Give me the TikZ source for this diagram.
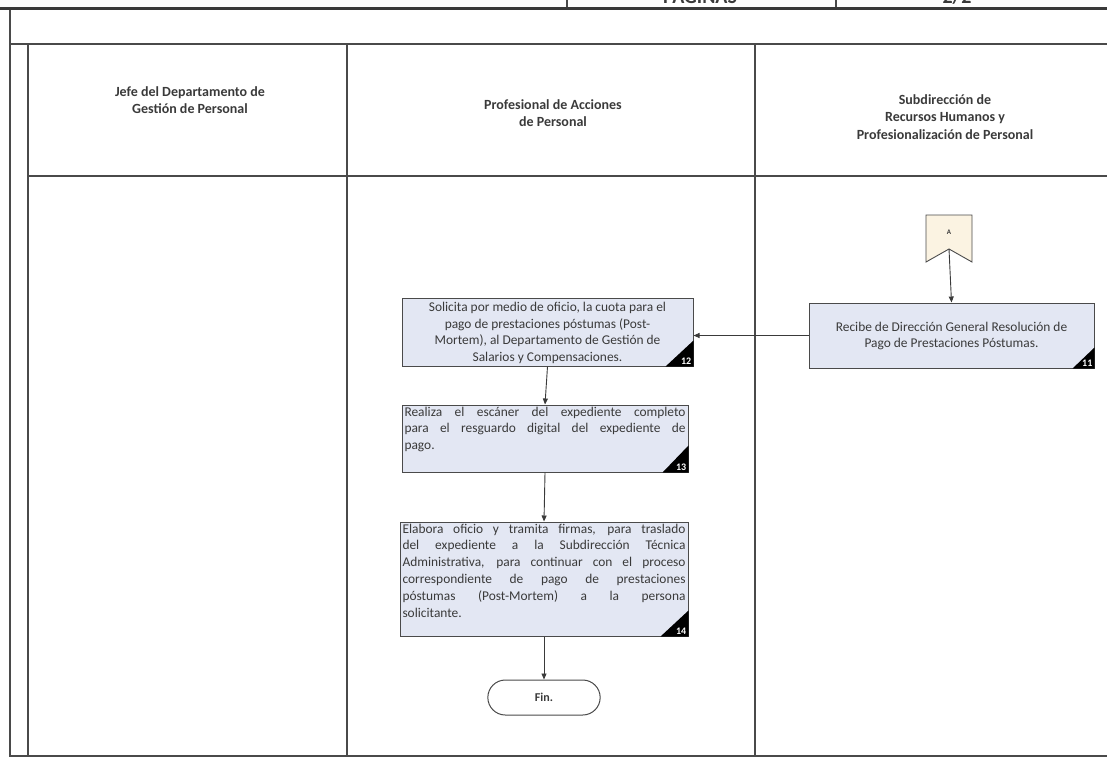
\documentclass[tikz,border=0pt]{standalone}
\usepackage{fontspec}
\setmainfont{Carlito}
\usetikzlibrary{arrows.meta,shapes.misc}
\definecolor{taskfill}{HTML}{E3E7F3}
\definecolor{connfill}{HTML}{FBF3E2}
\definecolor{inkgray}{HTML}{3A3A3A}
\definecolor{rulegray}{HTML}{4A4A4A}
\begin{document}
\begin{tikzpicture}[x=1pt,y=-1pt,
  rule/.style={draw=rulegray, line width=1.1pt},
  taskbox/.style={draw=rulegray, line width=1pt, fill=taskfill, rectangle, inner sep=0pt},
  tasktext/.style={text=inkgray, inner sep=0pt, font=\fontsize{13.4}{16.8}\selectfont},
  lanehead/.style={text=inkgray, align=center, font=\bfseries\fontsize{14}{17.5}\selectfont},
  flow/.style={draw=inkgray, line width=0.9pt, -{Triangle[length=6pt,width=5pt]}},
  stepno/.style={text=white, font=\bfseries\fontsize{10}{10}\selectfont, inner sep=0pt, anchor=south east}
]
\useasboundingbox (0,0) rectangle (1107,758);

% page header strip (cut at the top edge)
\begin{scope}
  \clip (0,0) rectangle (1107,6.5);
  \node[font=\bfseries\fontsize{20}{20}\selectfont, text=inkgray, anchor=base] (pg) at (700,3) {PÁGINAS};
  \node[font=\bfseries\fontsize{20}{20}\selectfont, text=inkgray, anchor=base] (pn) at (957,3) {2/2};
\end{scope}
\draw[rule, line width=1.4pt] (567,0) -- (567,8) (836,0) -- (836,8);
\draw[draw=inkgray, line width=3pt] (0,8) -- (1107,8);

% form frame and swimlane grid
\draw[rule] (10,9.5) -- (10,756) -- (1107,756);
\draw[rule] (10,44) -- (1107,44);
\draw[rule] (28,44) -- (28,756);
\draw[rule] (28,176) -- (1107,176);
\draw[rule] (347,44) -- (347,756);
\draw[rule] (755,44) -- (755,756);

% lane headings
\node[lanehead] (h1) at (190,100) {Jefe del Departamento de\\Gestión de Personal};
\node[lanehead] (h2) at (553,113) {Profesional de Acciones\\de Personal};
\node[lanehead] (h3) at (945,117) {Subdirección de\\Recursos Humanos y\\Profesionalización de Personal};

% off-page connector A
\draw[draw=rulegray, line width=0.9pt, fill=connfill]
  (926,215) -- (972,215) -- (972,262) -- (949,249) -- (926,262) -- cycle;
\node[font=\bfseries\fontsize{7}{7}\selectfont, text=inkgray] (A) at (949,232) {A};
\coordinate (Abot) at (949,249);

% step 11
\node[taskbox, minimum width=285pt, minimum height=65pt] (b11) at (951.5,335.5) {};
\node[tasktext, align=center] (t11) at (951.5,336) {Recibe de Dirección General Resolución de\\Pago de Prestaciones Póstumas.};
\fill[black] (b11.south east) -- ++(-22,0) -- ++(22,-21) -- cycle;
\node[stepno] (n11) at ([xshift=-2pt,yshift=1.5pt]b11.south east) {11};

% step 12
\node[taskbox, minimum width=291pt, minimum height=68pt] (b12) at (547.5,332) {};
\node[tasktext, align=center] (t12) at (547.5,333) {Solicita por medio de oficio, la cuota para el\\pago de prestaciones póstumas (Post-\\Mortem), al Departamento de Gestión de\\Salarios y Compensaciones.};
\fill[black] (b12.south east) -- ++(-28,0) -- ++(28,-26) -- cycle;
\node[stepno] (n12) at ([xshift=-2pt,yshift=1.5pt]b12.south east) {12};

% step 13
\node[taskbox, minimum width=286pt, minimum height=67pt] (b13) at (545,438.5) {};
\node[tasktext, align=justify, text width=281pt, anchor=north] (t13) at ([yshift=-2pt]b13.north)
  {Realiza el escáner del expediente completo\linebreak para el resguardo digital del expediente de\linebreak pago.};
\fill[black] (b13.south east) -- ++(-26,0) -- ++(26,-27) -- cycle;
\node[stepno] (n13) at ([xshift=-2pt,yshift=1.5pt]b13.south east) {13};

% step 14
\node[taskbox, minimum width=288pt, minimum height=114pt] (b14) at (544,579) {};
\node[tasktext, align=justify, text width=283pt, anchor=north] (t14) at ([yshift=-2pt]b14.north)
  {Elabora oficio y tramita firmas, para traslado\linebreak del expediente a la Subdirección Técnica\linebreak Administrativa, para continuar con el proceso\linebreak correspondiente de pago de prestaciones\linebreak póstumas (Post-Mortem) a la persona\linebreak solicitante.};
\fill[black] (b14.south east) -- ++(-28,0) -- ++(28,-26) -- cycle;
\node[stepno] (n14) at ([xshift=-2pt,yshift=1.5pt]b14.south east) {14};

% end terminal
\node[draw=rulegray, line width=1pt, fill=white, rounded rectangle, minimum width=119pt, minimum height=35pt,
      text=inkgray, font=\bfseries\fontsize{12}{14}\selectfont] (fin) at (544,697.5) {Fin.};

% flow
\draw[flow] (Abot) -- (b11.north);
\draw[flow] (b11.west) -- (b11.west -| b12.east);
\draw[flow] (b12.south) -- (b13.north);
\draw[flow] (b13.south) -- (b14.north);
\draw[flow] (b14.south) -- (fin.north);
\end{tikzpicture}
\end{document}
